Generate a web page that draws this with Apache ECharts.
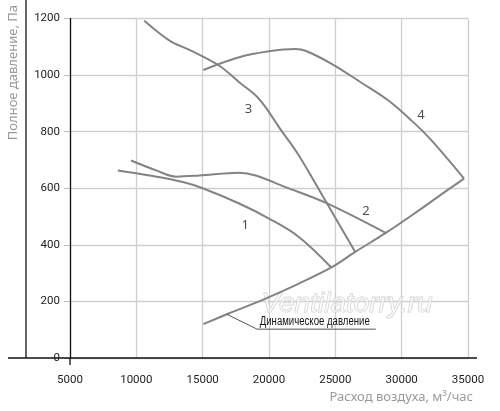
<!DOCTYPE html>
<html>
<head>
<meta charset="utf-8">
<script src="https://cdn.jsdelivr.net/npm/echarts@6/dist/echarts.min.js"></script>
<style>html,body{margin:0;padding:0;background:#fff}#c{width:500px;height:411px}</style>
</head>
<body>
<div id="c"></div>
<script>
// ---- data ----
const xTicks = [5000, 10000, 15000, 20000, 25000, 30000, 35000];
const yTicks = [0, 200, 400, 600, 800, 1000, 1200];

const curve1X = [8600, 11000, 13500, 15000, 17750, 20000, 22250, 24700];
const curve1Y = [663, 645, 622, 600, 546, 493, 428, 320];

const curve2X = [9600, 11500, 13000, 14750, 17750, 19000, 21250, 24300, 28800];
const curve2Y = [698, 663, 641, 645, 655, 645, 604, 548, 442];

const curve3X = [10600, 12500, 14000, 16250, 17750, 19000, 19750, 20750, 22250, 24300, 26500];
const curve3Y = [1192, 1122, 1089, 1033, 975, 928, 886, 816, 716, 552, 375];

const curve4X = [15050, 17750, 20000, 22000, 22750, 24750, 27000, 29000, 30750, 32250, 34700];
const curve4Y = [1018, 1063, 1084, 1092, 1086, 1039, 972, 910, 839, 769, 634];

const dynX = [15050, 17000, 19700, 22250, 24700, 26500, 28800, 31000, 33500, 34700];
const dynY = [120, 158, 209, 263, 320, 375, 442, 512, 595, 634];

const curveLabels = ['1', '2', '3', '4'];
const labelX = [18200, 27300, 18450, 31450];
const labelY = [470, 518, 878, 858];

const annotationText = 'Динамическое давление';
const leaderX = [16800, 19100, 28050];
const leaderY = [155, 102, 102];
const annotationPos = [23450, 128];

const xName = 'Расход воздуха, м³/час';
const yName = 'Полное давление, Па';
const watermark = 'Ventilatorry.ru';

// ---- build ----
const zip = (xs, ys) => xs.map((x, i) => [x, ys[i]]);
const lineColor = '#838383';
const mk = (xs, ys) => ({
  type: 'line', data: zip(xs, ys), smooth: 0.35, showSymbol: false, symbol: 'none',
  lineStyle: { color: lineColor, width: 2 }, z: 3, silent: true, animation: false
});
const font = '"Roboto", "Liberation Sans", sans-serif';

const chart = echarts.init(document.getElementById('c'), null, { renderer: 'canvas' });
const baseGraphic = [
  { id: 'xl', type: 'line', shape: { x1: 8, y1: 358, x2: 477, y2: 358 }, style: { stroke: '#111', lineWidth: 1.3 }, z: 10 },
  { id: 'vl', type: 'line', shape: { x1: 26, y1: 0, x2: 26, y2: 358 }, style: { stroke: '#111', lineWidth: 1.3 }, z: 10 },
  { id: 'tk', type: 'line', shape: { x1: 70, y1: 358, x2: 70, y2: 365 }, style: { stroke: '#111', lineWidth: 1.3 }, z: 10 },
  { id: 'yn', type: 'text', x: 13, y: 5, rotation: Math.PI / 2,
    style: { text: yName, align: 'right', verticalAlign: 'middle', fill: '#9a9a9a', fontSize: 13, fontFamily: '"Noto Sans", sans-serif' }, z: 10 },
  { id: 'xn', type: 'text', x: 473, y: 397,
    style: { text: xName, align: 'right', verticalAlign: 'middle', fill: '#9a9a9a', fontSize: 13, fontFamily: '"Noto Sans", sans-serif' }, z: 10 },
  { id: 'wm', type: 'text', x: 347, y: 304,
    style: { text: watermark, align: 'center', verticalAlign: 'middle', fill: 'rgba(255,255,255,0.5)', stroke: '#cfcfcf', lineWidth: 1,
      fontSize: 28, fontStyle: 'italic', fontFamily: '"Liberation Sans", sans-serif' }, z: 1 }
];
chart.setOption({
  animation: false,
  backgroundColor: '#fff',
  grid: { left: 70, right: 32, top: 18.5, bottom: 53 },
  xAxis: {
    type: 'value', min: xTicks[0], max: xTicks[xTicks.length - 1], interval: 5000,
    axisLine: { show: false },
    axisTick: { show: false },
    axisLabel: { color: '#222', fontSize: 11.5, fontFamily: font, margin: 16, formatter: v => String(v) },
    splitLine: { show: true, lineStyle: { color: '#cfcfcf', width: 1.3 } }
  },
  yAxis: {
    type: 'value', min: yTicks[0], max: yTicks[yTicks.length - 1], interval: 200,
    axisLine: { show: true, lineStyle: { color: '#111', width: 1.3 } },
    axisTick: { show: true, length: 6, lineStyle: { color: '#bbb' } },
    axisLabel: { color: '#222', fontSize: 11.5, fontFamily: font, margin: 10, padding: [0, 0, 8, 0], formatter: v => String(v) },
    splitLine: { show: true, lineStyle: { color: '#cfcfcf', width: 1.3 } }
  },
  graphic: baseGraphic,
  series: [
    mk(curve1X, curve1Y),
    mk(curve2X, curve2Y),
    mk(curve3X, curve3Y),
    mk(curve4X, curve4Y),
    mk(dynX, dynY),
    { type: 'line', data: zip(leaderX, leaderY), smooth: false, symbol: 'none',
      lineStyle: { color: '#555', width: 1 }, z: 3, silent: true },
    { type: 'scatter', symbolSize: 0, z: 5, silent: true,
      data: curveLabels.map((t, i) => ({ value: [labelX[i], labelY[i]], name: t })),
      label: { show: true, position: 'inside', formatter: p => p.name, color: '#222', fontSize: 13, fontFamily: '"Noto Sans", sans-serif' } }
  ]
});
const ap = chart.convertToPixel({ gridIndex: 0 }, annotationPos);
chart.setOption({
  graphic: [{ id: 'ann', type: 'text', x: ap[0], y: ap[1], scaleX: 0.8,
    style: { text: annotationText, align: 'center', verticalAlign: 'middle', fill: '#111', fontSize: 12, fontFamily: '"Liberation Sans", sans-serif' }, z: 10 }]
});
</script>
</body>
</html>
